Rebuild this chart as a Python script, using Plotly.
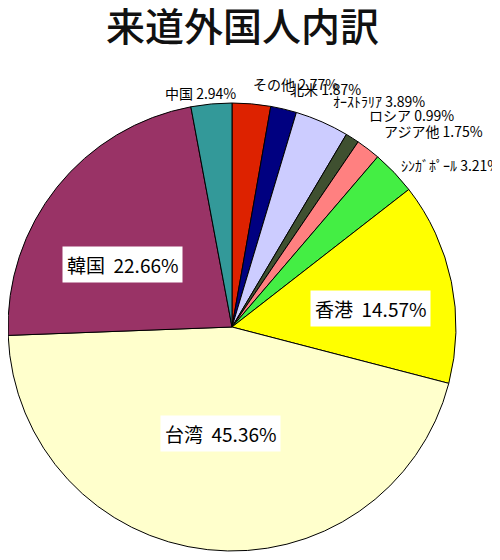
import math
import plotly.graph_objects as go

# ---- data ----
labels = ["その他", "北米", "ｵｰｽﾄﾗﾘｱ", "ロシア", "アジア他", "ｼﾝｶﾞﾎﾟｰﾙ",
          "香港", "台湾", "韓国", "中国"]
values = [2.77, 1.87, 3.89, 0.99, 1.75, 3.21, 14.57, 45.36, 22.66, 2.94]
title_text = "来道外国人内訳"

# ---- styles / label placement ----
colors = ["#DD2200", "#000080", "#CCCCFF", "#3F5030", "#FF8080", "#44EE44",
          "#FFFF00", "#FFFFCC", "#993366", "#339999"]
inside = [False, False, False, False, False, False, True, True, True, False]
label_r = [1.09, 1.09, 1.10, 1.12, 1.10, 1.05, 0.64, 0.48, 0.56, 1.05]
label_nudge = [(-2, 0), (0, 0), (0, 0), (0, 0), (0, 0), (-3, 0),
               (-2, -10), (0, 0), (-12, -16), (-10, 0)]

W, H = 500, 560
OFF = 8.0  # page body margin
R = 224.0
cx, cy = R, 327.0 - OFF
FONT = "Noto Sans CJK JP"

fig = go.Figure(go.Pie(
    labels=labels,
    values=values,
    sort=False,
    direction="clockwise",
    rotation=0,
    marker=dict(colors=colors, line=dict(color="#000000", width=1)),
    textinfo="none",
    hoverinfo="label+percent",
    showlegend=False,
    domain=dict(x=[0, (cx + R) / W],
                y=[1 - (cy + R) / H, 1 - (cy - R) / H]),
))

total = sum(values)
cum = 0.0
annotations = []
for lab, v, ins, k, (nx, ny) in zip(labels, values, inside, label_r, label_nudge):
    mid = (cum + v / 2) / total * 2 * math.pi
    cum += v
    s, c = math.sin(mid), math.cos(mid)
    px = cx + R * k * s
    py = cy - R * k * c
    if ins:
        annotations.append(dict(
            x=px / W, y=1 - py / H, xref="paper", yref="paper",
            xshift=nx, yshift=ny,
            text=f"{lab}\u00a0 {v:.2f}%", showarrow=False,
            xanchor="center", yanchor="middle",
            font=dict(family=FONT, size=19, color="#000000"),
            bgcolor="#FFFFFF", borderpad=4,
        ))
    else:
        if s >= 0:
            xa = "left"
        elif s > -0.1:
            xa = "center"
        else:
            xa = "right"
        annotations.append(dict(
            x=px / W, y=1 - py / H, xref="paper", yref="paper",
            xshift=nx, yshift=ny,
            text=f"{lab} {v:.2f}%", showarrow=False,
            xanchor=xa, yanchor="middle",
            font=dict(family=FONT, size=14, color="#000000"),
        ))

annotations.append(dict(
    x=(242 - OFF) / W, y=1 - (24 - OFF) / H, xref="paper", yref="paper",
    text=title_text, showarrow=False,
    xanchor="center", yanchor="middle",
    font=dict(family=FONT, size=39, color="#111111", weight=500),
))

fig.update_layout(
    width=W, height=H,
    margin=dict(l=0, r=0, t=0, b=0),
    paper_bgcolor="#FFFFFF",
    plot_bgcolor="#FFFFFF",
    annotations=annotations,
)

fig.write_html("out.html")
